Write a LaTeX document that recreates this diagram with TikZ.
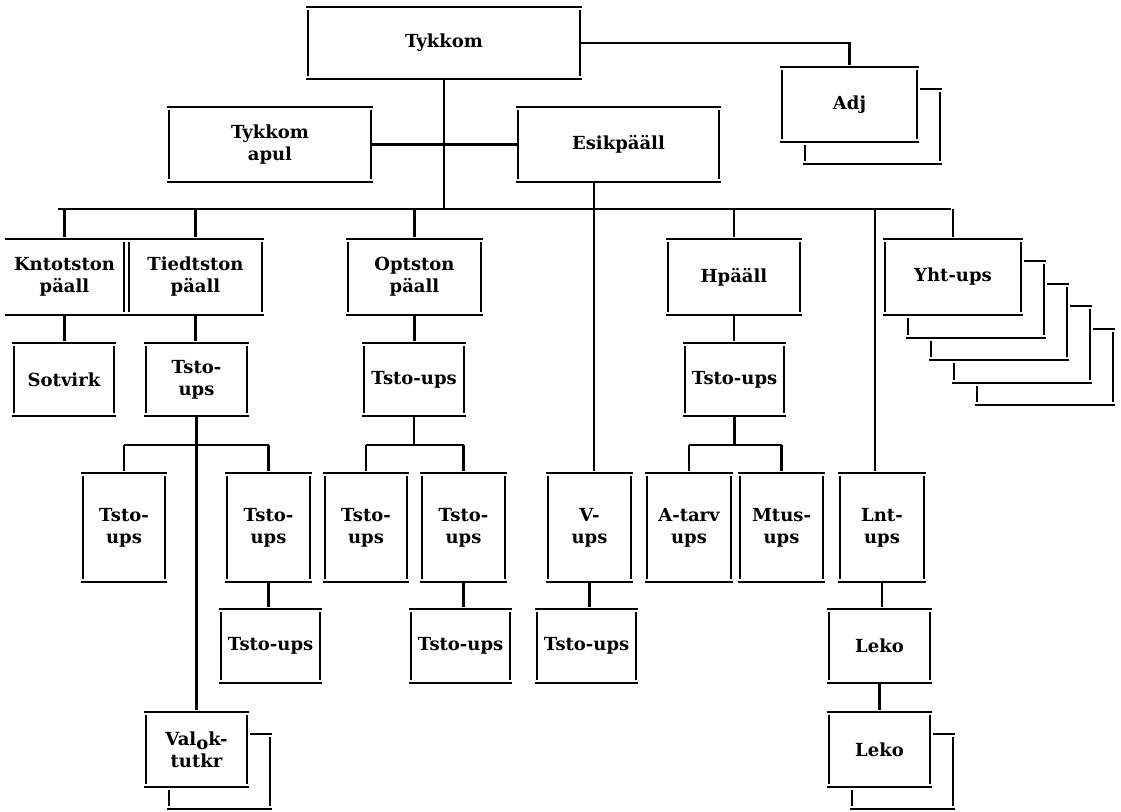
\documentclass[tikz,border=0pt]{standalone}
\usepackage{fontspec}
\setmainfont{DejaVu Serif}
\usetikzlibrary{calc}
\tikzset{
  ln/.style={line width=2.1pt},
  drop/.style={line width=2.1pt, shorten >=1.5pt},
  bx/.style={inner sep=0pt, align=center, font=\fontsize{18}{22}\selectfont\bfseries}
}
\newcommand\bx[6]{\node[bx, minimum width={(#4-#2)*1pt}, minimum height={(#5-#3)*1pt}] (#1) at ({(#2+#4)/2},{(#3+#5)/2}) {#6};}
\newcommand\frm[1]{%
  \draw[ln] ([xshift=-2pt]#1.north west) -- ([xshift=2pt]#1.north east);
  \draw[ln] ([xshift=-2pt]#1.south west) -- ([xshift=2pt]#1.south east);
  \draw[ln] ([yshift=-3pt]#1.north west) -- ([yshift=3pt]#1.south west);
  \draw[ln] ([yshift=-3pt]#1.north east) -- ([yshift=3pt]#1.south east);}
% shadow layer: name, a, b (offset), pa, pb (previous layer offset)
\newcommand\shd[5]{%
  \draw[ln] ($(#1.north east)+(#4+3,#3)$) -- ($(#1.north east)+(#2+2,#3)$);
  \draw[ln] ($(#1.north east)+(#2,#3+3)$) -- ($(#1.south east)+(#2,#3-3)$);
  \draw[ln] ($(#1.south west)+(#2-2,#3)$) -- ($(#1.south east)+(#2+2,#3)$);
  \draw[ln] ($(#1.south west)+(#2,#5+3)$) -- ($(#1.south west)+(#2,#3-3)$);}
\begin{document}
\begin{tikzpicture}[x=1pt,y=-1pt]
\useasboundingbox[fill=white] (0,0) rectangle (1121,811);
% level 0/1
\bx{tyk}{308}{7}{580}{79}{Tykkom}
\bx{adj}{782}{67}{917}{142}{Adj}
\bx{apul}{169}{107}{371}{182}{Tykkom\\apul}
\bx{esik}{518}{107}{719}{182}{Esikpääll}
% level 2
\bx{knt}{5}{239}{124}{315}{Kntotston\\päall}
\bx{tied}{129}{239}{262}{315}{Tiedtston\\päall}
\bx{opt}{348}{239}{481}{315}{Optston\\päall}
\bx{hp}{668}{239}{800}{315}{Hpääll}
\bx{yht}{885}{239}{1021}{315}{Yht-ups}
% level 3
\bx{sot}{14}{343}{114}{416}{Sotvirk}
\bx{ts1}{146}{343}{247}{416}{Tsto-\\ups}
\bx{ts2}{364}{343}{464}{416}{Tsto-ups}
\bx{ts3}{685}{343}{784}{416}{Tsto-ups}
% level 4
\bx{l4a}{83}{473}{165}{582}{Tsto-\\ups}
\bx{l4b}{227}{473}{310}{582}{Tsto-\\ups}
\bx{l4c}{325}{473}{407}{582}{Tsto-\\ups}
\bx{l4d}{422}{473}{505}{582}{Tsto-\\ups}
\bx{vups}{548}{473}{631}{582}{V-\\ups}
\bx{atarv}{647}{473}{731}{582}{A-tarv\\ups}
\bx{mtus}{740}{473}{823}{582}{Mtus-\\ups}
\bx{lnt}{840}{473}{924}{582}{Lnt-\\ups}
% level 5
\bx{l5b}{221}{609}{320}{683}{Tsto-ups}
\bx{l5d}{411}{609}{510}{683}{Tsto-ups}
\bx{l5v}{537}{609}{636}{683}{Tsto-ups}
\bx{leko1}{829}{609}{930}{683}{Leko}
% level 6
\bx{valok}{146}{712}{247}{787}{Val\raisebox{-0.45ex}{o}k-\\tutkr}
\bx{leko2}{829}{712}{930}{787}{Leko}

% frames
\foreach \n in {tyk,adj,apul,esik,opt,hp,yht,sot,ts1,ts2,ts3,l4a,l4b,l4c,l4d,vups,atarv,mtus,lnt,l5b,l5d,l5v,leko1,valok,leko2} {\frm{\n}}
% Kntotston + Tiedtston shared frame
\draw[ln] (knt.north west) -- ([xshift=2pt]tied.north east);
\draw[ln] (knt.south west) -- ([xshift=2pt]tied.south east);
\draw[ln] ([yshift=-3pt]knt.north east) -- ([yshift=3pt]knt.south east);
\draw[ln] ([yshift=-3pt]tied.north west) -- ([yshift=3pt]tied.south west);
\draw[ln] ([yshift=-3pt]tied.north east) -- ([yshift=3pt]tied.south east);
% shadows
\shd{adj}{23}{22}{0}{0}
\shd{valok}{23}{22}{0}{0}
\shd{leko2}{23}{22}{0}{0}
\shd{yht}{23}{22.5}{0}{0}
\shd{yht}{46}{45}{23}{22.5}
\shd{yht}{69}{67.5}{46}{45}
\shd{yht}{92}{90}{69}{67.5}

% connectors
\coordinate (busL) at (58,209);
\coordinate (busR) at (951,209);
\coordinate (vx) at (594,209);
\coordinate (lx) at (875,209);
\coordinate (b4) at (0,445);
\draw[ln] (busL) -- (busR);
\draw[ln] (tyk.south) -- (tyk.south |- busL);
\draw[ln] (apul.east) -- (apul.east -| esik.west);
\draw[drop] (tyk.east) -| (adj.north);
\draw[ln] (esik.south -| vx) -- (vx);
\draw[drop] (vx) -- (vx |- vups.north);
\draw[drop] (lx) -- (lx |- lnt.north);
\foreach \n in {knt,tied,opt,hp,yht} {\draw[drop] (\n.north |- busL) -- (\n.north);}
% level 2 -> 3
\draw[drop] (knt.south) -- (knt.south |- sot.north);
\draw[drop] (tied.south) -- (tied.south |- ts1.north);
\draw[drop] (opt.south) -- (opt.south |- ts2.north);
\draw[drop] (hp.south) -- (hp.south |- ts3.north);
% level 3 -> 4
\draw[drop] (ts1.south) -- (ts1.south |- valok.north);
\draw[ln] (l4a.north |- b4) -- (l4b.north |- b4);
\draw[drop] (l4a.north |- b4) -- (l4a.north);
\draw[drop] (l4b.north |- b4) -- (l4b.north);
\draw[ln] (ts2.south) -- (ts2.south |- b4);
\draw[ln] (l4c.north |- b4) -- (l4d.north |- b4);
\draw[drop] (l4c.north |- b4) -- (l4c.north);
\draw[drop] (l4d.north |- b4) -- (l4d.north);
\draw[ln] (ts3.south) -- (ts3.south |- b4);
\draw[ln] (atarv.north |- b4) -- (mtus.north |- b4);
\draw[drop] (atarv.north |- b4) -- (atarv.north);
\draw[drop] (mtus.north |- b4) -- (mtus.north);
% level 4 -> 5 -> 6
\draw[drop] (l4b.south) -- (l4b.south |- l5b.north);
\draw[drop] (l4d.south) -- (l4d.south |- l5d.north);
\draw[drop] (vups.south) -- (vups.south |- l5v.north);
\draw[drop] (lnt.south) -- (lnt.south |- leko1.north);
\draw[drop] (leko1.south) -- (leko1.south |- leko2.north);
\end{tikzpicture}
\end{document}
